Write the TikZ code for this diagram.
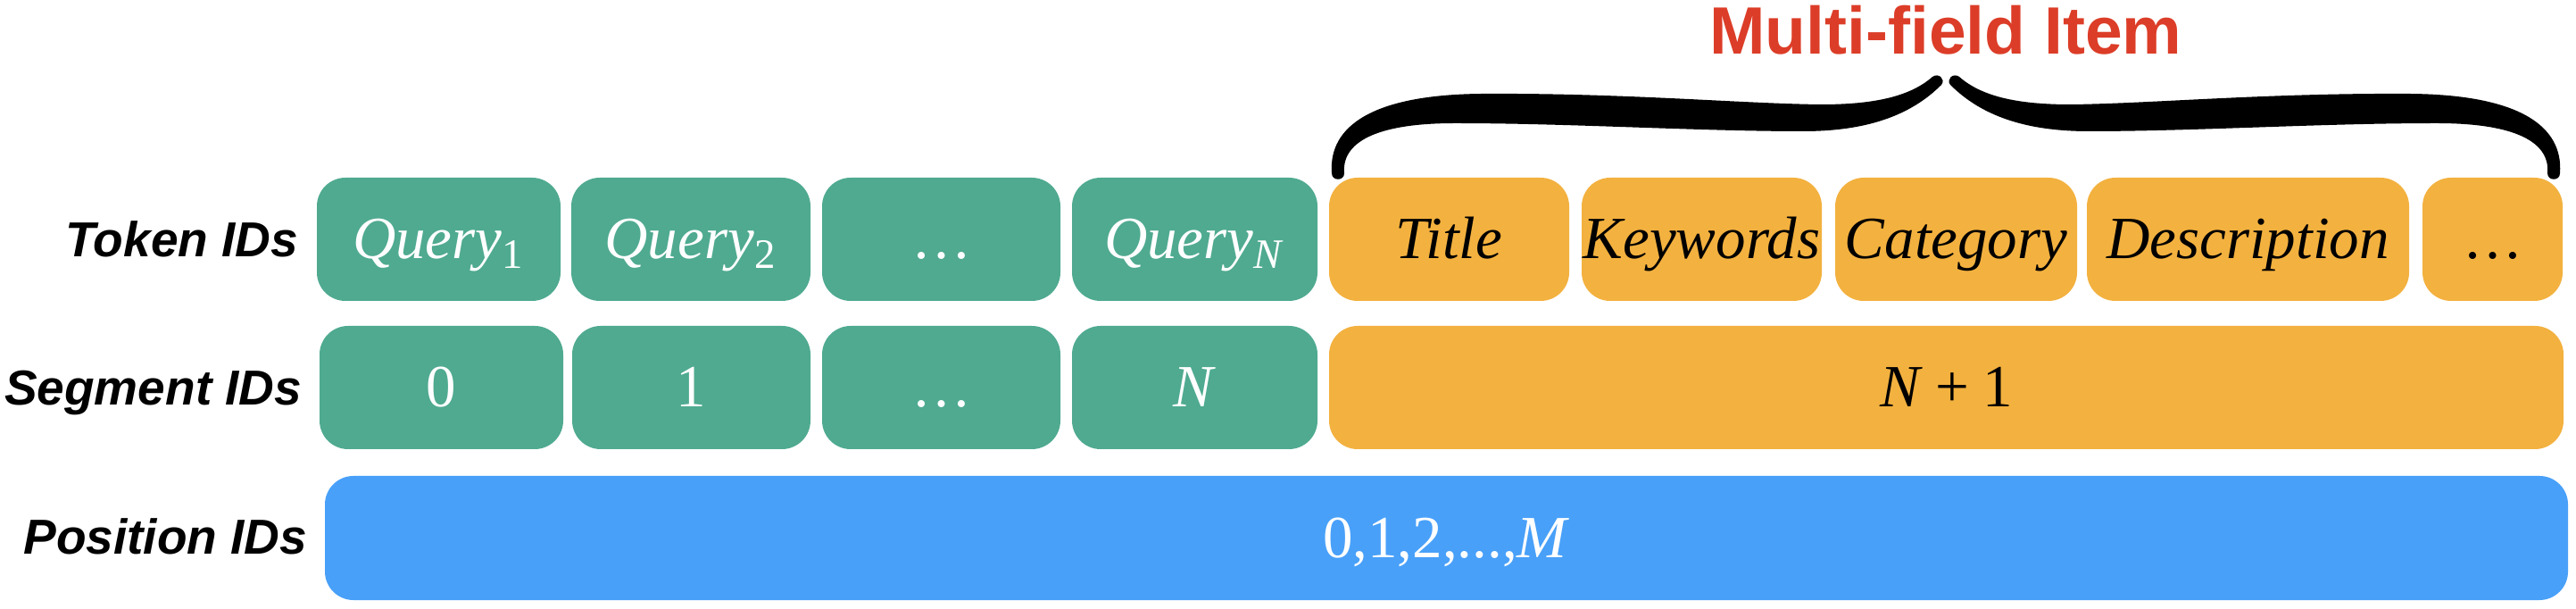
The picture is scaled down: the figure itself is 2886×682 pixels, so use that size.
\documentclass[tikz,border=0pt]{standalone}
\usepackage{fontspec}
\setmainfont{Liberation Serif}
\newfontfamily\lblfont{Liberation Sans}

\definecolor{qgreen}{HTML}{4FAA90}
\definecolor{itemorange}{HTML}{F3B13F}
\definecolor{posblue}{HTML}{48A0F9}
\definecolor{fieldred}{HTML}{DC3D28}

\tikzset{
  idbox/.style={rounded corners=8pt, minimum height=34.5pt, inner sep=0pt,
    text height=11pt, text depth=0pt, font=\fontsize{16.75}{18}\selectfont},
  qbox/.style={idbox, fill=qgreen, text=white},
  ibox/.style={idbox, fill=itemorange, text=black},
  rowlabel/.style={anchor=base east, inner sep=0pt, font=\lblfont\fontsize{13.75}{16}\selectfont\bfseries\itshape},
}

\begin{document}
\begin{tikzpicture}[x=0.25pt, y=-0.25pt]

\useasboundingbox (0,0) rectangle (2886,682);

% row labels
\node[rowlabel] (tok) at (335,288) {Token IDs};
\node[rowlabel] (seg) at (339,454) {Segment IDs};
\node[rowlabel] (pos) at (345,620) {Position IDs};

% token ids
\node[qbox, minimum width=68.25pt] (q1) at (491.5,268) {\textit{Query}\textsubscript{1}};
\node[qbox, minimum width=67pt] (q2) at (774,268) {\textit{Query}\textsubscript{2}};
\node[qbox, minimum width=66.75pt] (qdots) at (1054.5,268) {\ldots};
\node[qbox, minimum width=68.75pt] (qn) at (1338.5,268) {\textit{Query}\textsubscript{\textit{N}}};
\node[ibox, minimum width=67.25pt] (title) at (1623.5,268) {\textit{Title}};
\node[ibox, minimum width=67.25pt] (keyw) at (1906.5,268) {\textit{Keywords}};
\node[ibox, minimum width=67.75pt] (categ) at (2191.5,268) {\textit{Category}};
\node[ibox, minimum width=90.25pt] (descr) at (2518.5,268) {\textit{Description}};
\node[ibox, minimum width=39.25pt] (idots) at (2792.5,268) {\ldots};

% segment ids
\node[qbox, minimum width=68.25pt] (s0) at (494.5,434) {0};
\node[qbox, minimum width=66.75pt] (s1) at (774.5,434) {1};
\node[qbox, minimum width=66.75pt] (sdots) at (1054.5,434) {\ldots};
\node[qbox, minimum width=68.75pt] (sn) at (1338.5,434) {\textit{N}};
\node[ibox, minimum width=345.75pt] (sitem) at (2180.5,434) {\textit{N}\kern.22em+\kern.22em1};

% position ids
\node[idbox, fill=posblue, text=white, minimum width=628.25pt, minimum height=34.75pt] (pids) at (1620.5,602.5) {0,1,2,...,\textit{M}};

% brace over the item fields
\foreach \s in {1,-1}
  \fill[black, shift={({2180*(1-\s)},0)}, xscale=\s]
    (1492,194) .. controls (1488,140) and (1540,106) .. (1660,105)
    .. controls (1820,104) and (1950,116) .. (2040,117)
    .. controls (2100,117) and (2140,108) .. (2165,86)
    .. controls (2172,81) and (2180,89) .. (2175,95)
    .. controls (2140,130) and (2090,147) .. (2020,147)
    .. controls (1900,147) and (1760,138) .. (1630,138)
    .. controls (1540,138) and (1503,160) .. (1506,194)
    .. controls (1506,203) and (1492,203) .. (1492,194) -- cycle;

\node[anchor=base, text=fieldred, font=\lblfont\fontsize{18.75}{20}\selectfont\bfseries] (mfield) at (2180,61) {Multi-field Item};

\end{tikzpicture}
\end{document}
